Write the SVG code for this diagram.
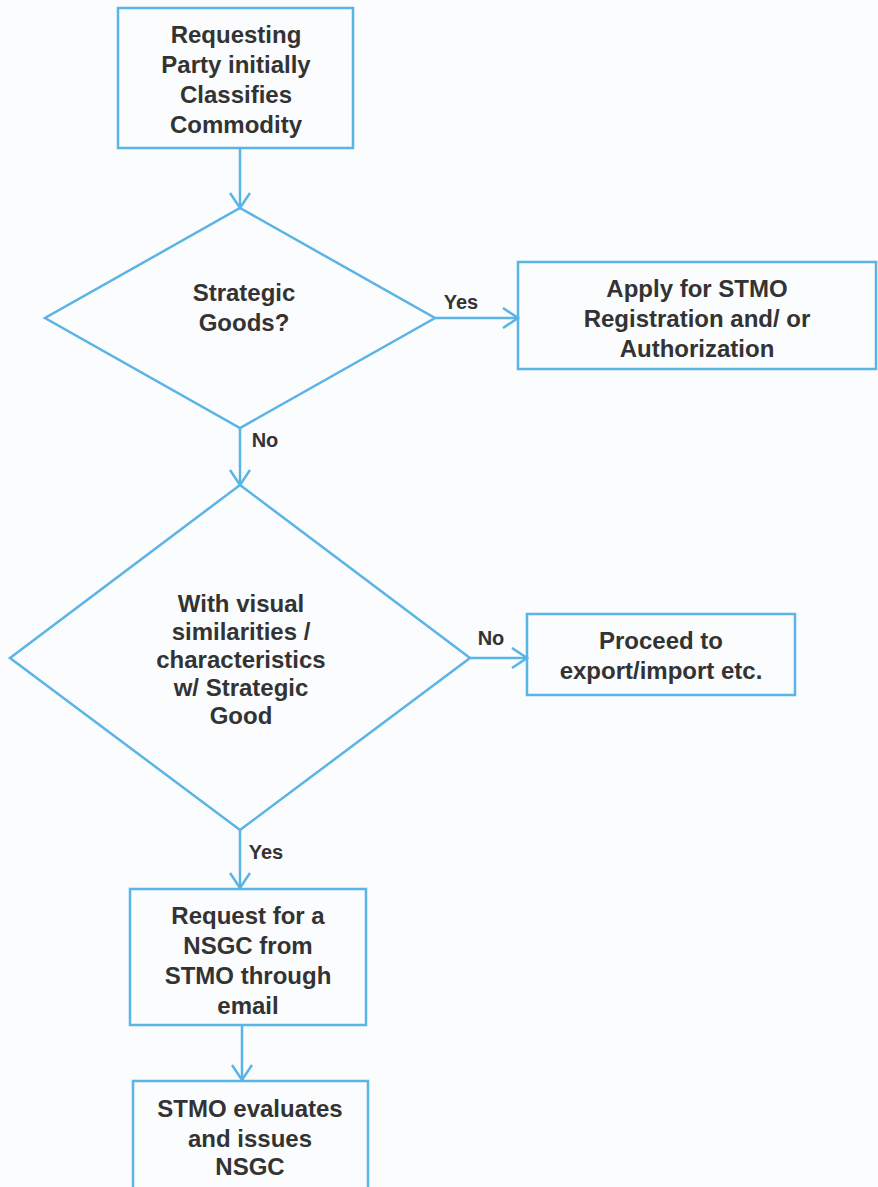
<svg xmlns="http://www.w3.org/2000/svg" width="878" height="1187" viewBox="0 0 878 1187">
<style>
.n{fill:none;stroke:#5ab4e6;stroke-width:2.5}
.c{fill:none;stroke:#5ab4e6;stroke-width:2.5}
text{font-family:"Liberation Sans",Arial,sans-serif;font-weight:bold;font-size:24px;fill:#333;text-anchor:middle;dominant-baseline:central}
.l{font-size:20px}
</style>
<defs>
<marker id="a" viewBox="0 0 22 22" refX="20" refY="11" markerWidth="22" markerHeight="22" markerUnits="userSpaceOnUse" orient="auto">
<path d="M5,1 L20,11 L5,21" fill="none" stroke="#5ab4e6" stroke-width="2.5"/>
</marker>
</defs>
<rect width="878" height="1187" fill="#fafcfd"/>
<g id="connectors">
<line class="c" x1="240" y1="148" x2="240" y2="208" marker-end="url(#a)"/>
<line class="c" x1="435" y1="318" x2="518" y2="318" marker-end="url(#a)"/>
<line class="c" x1="240" y1="428" x2="240" y2="485" marker-end="url(#a)"/>
<line class="c" x1="470" y1="658" x2="527" y2="658" marker-end="url(#a)"/>
<line class="c" x1="240" y1="830" x2="240" y2="888" marker-end="url(#a)"/>
<line class="c" x1="242" y1="1025" x2="242" y2="1080" marker-end="url(#a)"/>
<text class="l" x="461" y="302">Yes</text>
<text class="l" x="265" y="440">No</text>
<text class="l" x="491" y="638">No</text>
<text class="l" x="266" y="852">Yes</text>
</g>
<g id="start">
<rect class="n" x="118" y="8" width="235" height="140"/>
<text x="236" y="34">Requesting</text>
<text x="236" y="64">Party initially</text>
<text x="236" y="94">Classifies</text>
<text x="236" y="124">Commodity</text>
</g>
<g id="strategic">
<polygon class="n" points="240,208 435,318 240,428 45,318"/>
<text x="244" y="292">Strategic</text>
<text x="244" y="322">Goods?</text>
</g>
<g id="apply">
<rect class="n" x="518" y="262" width="358" height="107"/>
<text x="697" y="288">Apply for STMO</text>
<text x="697" y="318">Registration and/ or</text>
<text x="697" y="348">Authorization</text>
</g>
<g id="visual">
<polygon class="n" points="240,485 470,658 240,830 10,658"/>
<text x="241" y="603">With visual</text>
<text x="241" y="631">similarities /</text>
<text x="241" y="659">characteristics</text>
<text x="241" y="687">w/ Strategic</text>
<text x="241" y="715">Good</text>
</g>
<g id="proceed">
<rect class="n" x="527" y="614" width="268" height="81"/>
<text x="661" y="640">Proceed to</text>
<text x="661" y="670">export/import etc.</text>
</g>
<g id="request">
<rect class="n" x="130" y="889" width="236" height="136"/>
<text x="248" y="915">Request for a</text>
<text x="248" y="945">NSGC from</text>
<text x="248" y="975">STMO through</text>
<text x="248" y="1005">email</text>
</g>
<g id="evaluate">
<rect class="n" x="133" y="1081" width="235" height="120"/>
<text x="250" y="1108">STMO evaluates</text>
<text x="250" y="1138">and issues</text>
<text x="250" y="1166">NSGC</text>
</g>
</svg>
